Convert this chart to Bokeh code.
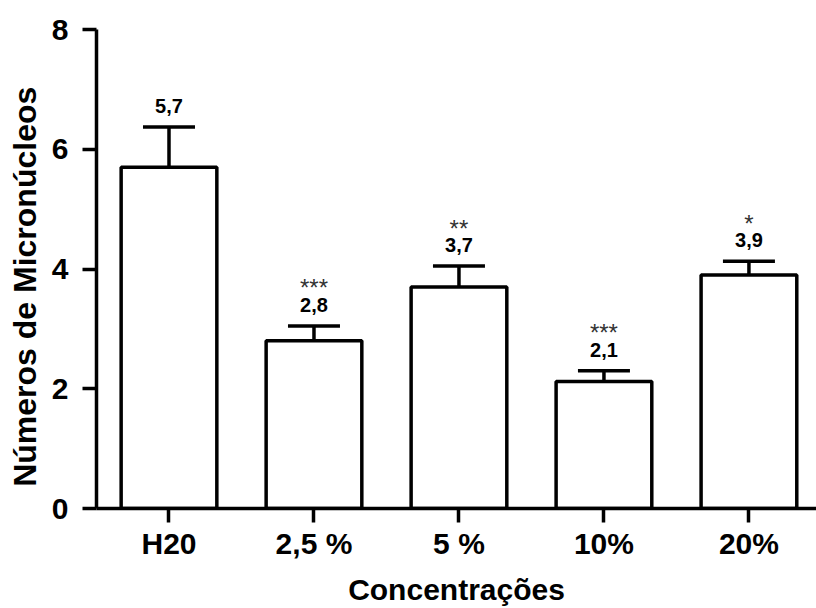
from bokeh.plotting import figure
from bokeh.models import ColumnDataSource, FixedTicker, Whisker, TeeHead, Range1d
from bokeh.core.properties import value
from bokeh.embed import file_html
from bokeh.resources import INLINE

categories = ["H20", "2,5 %", "5 %", "10%", "20%"]
means = [5.7, 2.8, 3.7, 2.12, 3.9]
sem = [0.67, 0.25, 0.35, 0.18, 0.23]
value_labels = ["5,7", "2,8", "3,7", "2,1", "3,9"]
stars = ["", "***", "**", "***", "*"]
y_ticks = [0, 2, 4, 6, 8]

xs = list(range(len(categories)))
upper = [m + s for m, s in zip(means, sem)]

src = ColumnDataSource(dict(x=xs, top=means, upper=upper,
                            lab=value_labels, stars=stars))

FONT = "Liberation Sans"

p = figure(width=816, height=608, output_backend="svg", toolbar_location=None,
           x_range=Range1d(-0.5, 4.466), y_range=Range1d(0, 8),
           min_border_left=96, min_border_top=29, min_border_bottom=99,
           min_border_right=0)
p.outline_line_color = None
p.grid.visible = False
p.background_fill_color = "white"
p.border_fill_color = "white"

p.vbar(x="x", top="top", bottom=0, width=0.66, source=src,
       fill_color="white", line_color="black", line_width=3.5)

w = Whisker(base="x", lower="top", upper="upper", source=src,
            line_color="black", line_width=3.5,
            upper_head=TeeHead(size=52, line_color="black", line_width=3.5),
            lower_head=None)
p.add_layout(w)

p.text(x="x", y="upper", text="lab", source=src, text_align="center",
       text_baseline="alphabetic", y_offset=-21,
       text_font=value(FONT), text_font_size="20px", text_font_style="bold",
       text_color="black")
p.text(x="x", y="upper", text="stars", source=src, text_align="center",
       text_baseline="alphabetic", y_offset=-38,
       text_font=value(FONT), text_font_size="24px",
       text_color="#333333")

for ax in (p.xaxis[0], p.yaxis[0]):
    ax.axis_line_width = 3.5
    ax.axis_line_color = "black"
    ax.major_tick_line_width = 3.5
    ax.major_tick_line_color = "black"
    ax.major_tick_in = 0
    ax.major_tick_out = 14
    ax.minor_tick_line_color = None
    ax.major_label_text_font = FONT
    ax.major_label_text_font_size = "30px"
    ax.major_label_text_font_style = "bold"
    ax.major_label_text_color = "black"
    ax.axis_label_text_font = FONT
    ax.axis_label_text_font_style = "bold"
    ax.axis_label_text_color = "black"

p.xaxis.ticker = FixedTicker(ticks=xs)
p.xaxis.major_label_overrides = {i: c for i, c in zip(xs, categories)}
p.xaxis.major_label_standoff = 4
p.xaxis.axis_label = "Concentrações"
p.xaxis.axis_label_text_font_size = "30px"
p.xaxis.axis_label_standoff = 10

p.yaxis.ticker = FixedTicker(ticks=y_ticks)
p.yaxis.major_label_standoff = 14
p.yaxis.axis_label = "Números de Micronúcleos" + "\u00a0" * 4
p.yaxis.axis_label_text_font_size = "32px"
p.yaxis.axis_label_standoff = 6

open("out.html", "w").write(file_html(p, INLINE))
